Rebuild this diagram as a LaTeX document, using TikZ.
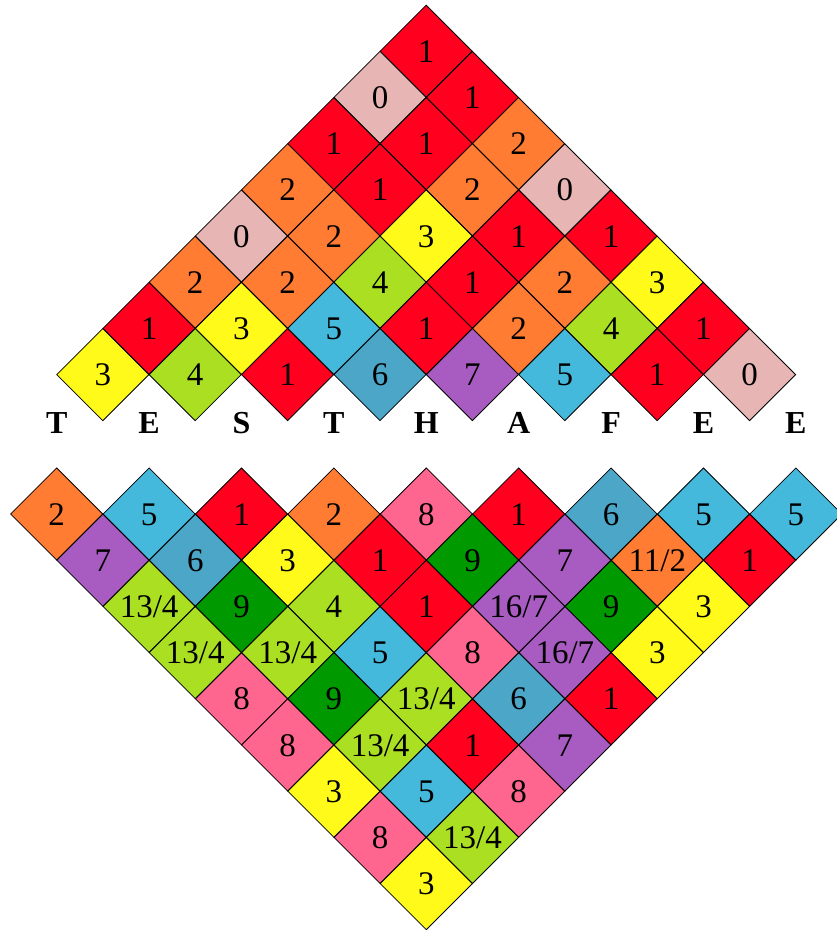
\documentclass[tikz,border=0pt]{standalone}
\usepackage{fontspec}
\setmainfont{Liberation Serif}
\usetikzlibrary{shapes.geometric}
\definecolor{c0}{HTML}{E6B5B4}
\definecolor{c1}{HTML}{FF001F}
\definecolor{c2}{HTML}{FF7C32}
\definecolor{c3}{HTML}{FFFA1A}
\definecolor{c4}{HTML}{AADF22}
\definecolor{c5}{HTML}{45B9DC}
\definecolor{c6}{HTML}{4BA6C8}
\definecolor{c7}{HTML}{A85BC0}
\definecolor{c8}{HTML}{FF668F}
\definecolor{c9}{HTML}{009900}
\tikzset{
  cell/.style={shape=diamond, aspect=1, minimum width=92.4pt, minimum height=92.4pt,
    inner sep=0pt, draw=black, line width=0.8pt, font=\fontsize{33}{35}\selectfont,
    text height=22pt, text depth=0pt},
  lab/.style={font=\fontsize{32}{34}\selectfont\bfseries, inner sep=0pt, text height=21pt, text depth=0pt}
}
\begin{document}
\begin{tikzpicture}[x=1pt,y=-1pt]
\useasboundingbox (0,0) rectangle (837,930);
% top triangle
\foreach \row [count=\r from 0] in {
  {1/1},
  {0/0,1/1},
  {1/1,1/1,2/2},
  {2/2,1/1,2/2,0/0},
  {0/0,2/2,3/3,1/1,1/1},
  {2/2,2/2,4/4,1/1,2/2,3/3},
  {1/1,3/3,5/5,1/1,2/2,4/4,1/1},
  {3/3,4/4,1/1,6/6,7/7,5/5,1/1,0/0}}{
  \foreach \c/\t [count=\i from 0] in \row {
    \node[cell, fill=c\c] (t-\r-\i) at ({426.2-\r*46.2+2*\i*46.2},{51.2+\r*46.2}) {\t};
  }
}
% letters
\foreach \l [count=\k from 0] in {T,E,S,T,H,A,F,E,E}{
  \node[lab] (l-\k) at ({56.7+2*\k*46.2},423) {\l};
}
% bottom triangle
\foreach \row [count=\r from 0] in {
  {2/2,5/5,1/1,2/2,8/8,1/1,6/6,5/5,5/5},
  {7/7,6/6,3/3,1/1,9/9,7/7,2/{11/2},1/1},
  {4/{13/4},9/9,4/4,1/1,7/{16/7},9/9,3/3},
  {4/{13/4},4/{13/4},5/5,8/8,7/{16/7},3/3},
  {8/8,9/9,4/{13/4},6/6,1/1},
  {8/8,4/{13/4},1/1,7/7},
  {3/3,5/5,8/8},
  {8/8,4/{13/4}},
  {3/3}}{
  \foreach \c/\t [count=\i from 0] in \row {
    \node[cell, fill=c\c] (b-\r-\i) at ({56.7+\r*46.2+2*\i*46.2},{514+\r*46.2}) {\t};
  }
}
\end{tikzpicture}
\end{document}
